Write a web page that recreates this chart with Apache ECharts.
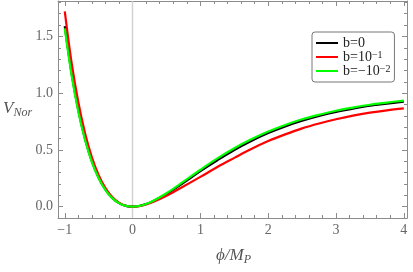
<!DOCTYPE html>
<html><head><meta charset="utf-8">
<script src="https://cdn.jsdelivr.net/npm/echarts@6/dist/echarts.min.js"></script>
<style>html,body{margin:0;padding:0;background:#fff}#c{width:413px;height:272px}</style>
</head><body><div id="c"></div>
<script>
const xs = [-1, -0.9, -0.8, -0.7, -0.6, -0.5, -0.4, -0.3, -0.2, -0.1, 0, 0.1, 0.2, 0.3, 0.5, 0.75, 1, 1.25, 1.5, 1.75, 2, 2.25, 2.5, 2.75, 3, 3.25, 3.5, 3.75, 4];
const vBlack = [1.59, 1.177, 0.849, 0.594, 0.399, 0.254, 0.149, 0.077, 0.0315, 0.0072, 0, 0.0061, 0.0227, 0.0472, 0.112, 0.210, 0.313, 0.409, 0.499, 0.578, 0.648, 0.707, 0.757, 0.799, 0.835, 0.864, 0.889, 0.908, 0.926];
const vRed   = [1.72, 1.27, 0.92, 0.645, 0.435, 0.278, 0.164, 0.085, 0.035, 0.008, 0, 0.005, 0.019, 0.040, 0.096, 0.178, 0.262, 0.35, 0.43, 0.508, 0.578, 0.637, 0.69, 0.733, 0.77, 0.802, 0.828, 0.849, 0.866];
const vGreen = [1.57, 1.16, 0.835, 0.585, 0.392, 0.25, 0.146, 0.075, 0.031, 0.007, 0, 0.0065, 0.024, 0.05, 0.118, 0.22, 0.325, 0.425, 0.515, 0.593, 0.662, 0.72, 0.77, 0.81, 0.845, 0.873, 0.898, 0.917, 0.935];
const seriesNames = ['b=0', 'b=10{s|−1}', 'b=−10{s|−2}'];
const xMajor = [-1, 0, 1, 2, 3, 4];
const xMinor = [-1, -0.8, -0.6, -0.4, -0.2, 0, 0.2, 0.4, 0.6, 0.8, 1, 1.2, 1.4, 1.6, 1.8, 2, 2.2, 2.4, 2.6, 2.8, 3, 3.2, 3.4, 3.6, 3.8, 4];
const yMajor = [0, 0.5, 1, 1.5];
const yMinor = [-0.1, 0, 0.1, 0.2, 0.3, 0.4, 0.5, 0.6, 0.7, 0.8, 0.9, 1, 1.1, 1.2, 1.3, 1.4, 1.5, 1.6, 1.7, 1.8];

const pair = (v) => xs.map((x, i) => [x, v[i]]);
const FRAME = '#8c8c8c';
const LBL = '#666';
const serif = 'Liberation Serif';
const XMIN = -1.1, XMAX = 4.047, YMIN = -0.1, YMAX = 1.812;

function xAx(pos, major, showLabel, showLine) {
  return {
    type: 'value', position: pos, min: XMIN, max: XMAX,
    axisLine: { show: showLine, onZero: false, lineStyle: { color: FRAME, width: 1 } },
    axisTick: { show: true, inside: true, length: major ? 5 : 3, customValues: major ? xMajor : xMinor, lineStyle: { color: FRAME } },
    axisLabel: { show: showLabel, customValues: xMajor, color: LBL, fontFamily: serif, fontSize: 14, margin: 5,
      formatter: v => (v < 0 ? '−' + Math.abs(v) : String(v)) },
    splitLine: { show: false }
  };
}
function yAx(pos, major, showLabel, showLine) {
  return {
    type: 'value', position: pos, min: YMIN, max: YMAX,
    axisLine: { show: showLine, onZero: false, lineStyle: { color: FRAME, width: 1 } },
    axisTick: { show: true, inside: true, length: major ? 5 : 3, customValues: major ? yMajor : yMinor, lineStyle: { color: FRAME } },
    axisLabel: { show: showLabel, customValues: yMajor, color: LBL, fontFamily: serif, fontSize: 14, margin: 5,
      formatter: v => v.toFixed(1) },
    splitLine: { show: false }
  };
}

const chart = echarts.init(document.getElementById('c'), null, { renderer: 'canvas' });
const colors = ['#000000', '#ff0000', '#00ff00'];
const vals = [vBlack, vRed, vGreen];
const series = vals.map((v, i) => ({
  name: seriesNames[i], type: 'line', data: pair(v), smooth: 0.35, showSymbol: false,
  xAxisIndex: 0, yAxisIndex: 0,
  lineStyle: { color: colors[i], width: 2.2 }, itemStyle: { color: colors[i] },
  z: 3 + i,
  markLine: i === 0 ? { silent: true, symbol: 'none', label: { show: false },
    lineStyle: { color: '#cfcfcf', type: 'solid', width: 1.4 }, data: [{ xAxis: 0 }], z: 1 } : undefined
}));

chart.setOption({
  animation: false,
  backgroundColor: '#fff',
  grid: { left: 58, right: 6, top: 1, bottom: 54 },
  xAxis: [xAx('bottom', true, true, true), xAx('bottom', false, false, false), xAx('top', true, false, true), xAx('top', false, false, false)],
  yAxis: [yAx('left', true, true, true), yAx('left', false, false, false), yAx('right', true, false, true), yAx('right', false, false, false)],
  legend: {
    orient: 'vertical', left: 312, top: 32,
    data: seriesNames.map((n, i) => ({ name: n, icon: 'rect', itemStyle: { color: colors[i] } })),
    itemWidth: 22, itemHeight: 2, itemGap: 0, itemTextGap: 8,
    padding: [4, 4, 4, 4], borderColor: '#777', borderWidth: 1, borderRadius: 3,
    backgroundColor: '#fff',
    textStyle: { fontFamily: serif, fontSize: 14, color: '#222', lineHeight: 14,
      rich: { s: { fontFamily: serif, fontSize: 10, verticalAlign: 'top', lineHeight: 14, color: '#222' } } }
  },
  graphic: [
    { type: 'text', left: 3, top: 100, style: { text: '{v|V}{s|Nor}', rich: {
      v: { fontFamily: serif, fontStyle: 'italic', fontSize: 17, fill: '#555', verticalAlign: 'top', lineHeight: 19 },
      s: { fontFamily: serif, fontStyle: 'italic', fontSize: 12, fill: '#555', verticalAlign: 'bottom', lineHeight: 19 } } } },
    { type: 'text', left: 216, top: 247, style: { text: '{v|ϕ/M}{s|P}', rich: {
      v: { fontFamily: serif, fontStyle: 'italic', fontSize: 17, fill: '#555', verticalAlign: 'top', lineHeight: 19 },
      s: { fontFamily: serif, fontStyle: 'italic', fontSize: 12, fill: '#555', verticalAlign: 'bottom', lineHeight: 19 } } } }
  ],
  series: series
});
</script></body></html>
